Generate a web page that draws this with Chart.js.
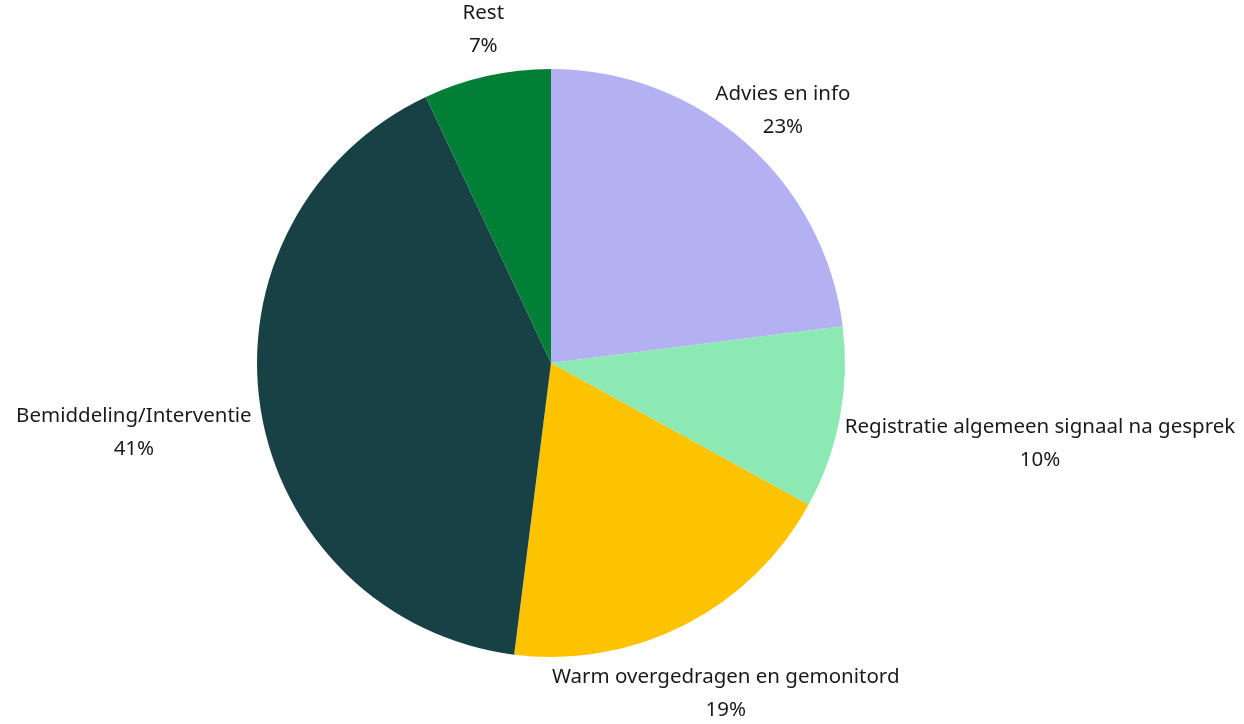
<!DOCTYPE html>
<html>
<head>
<meta charset="utf-8">
<script src="https://cdn.jsdelivr.net/npm/chart.js@4.4.0/dist/chart.umd.min.js"></script>
<style>
  html, body { margin: 0; padding: 0; background: #fff; }
  #wrap { width: 1244px; height: 724px; }
</style>
</head>
<body>
<div id="wrap"><canvas id="pieChart" width="1244" height="724"></canvas></div>
<script>
// Slice data, clockwise from 12 o'clock
const categories = [
    'Advies en info',
    'Registratie algemeen signaal na gesprek',
    'Warm overgedragen en gemonitord',
    'Bemiddeling/Interventie',
    'Rest'
];
const shares = [23, 10, 19, 41, 7];
const sliceColors = ['#b3b1f1', '#8de9b3', '#fdc300', '#184146', '#027f37'];

const LABEL_FONT = '20.5px "Noto Sans", "Open Sans", sans-serif';
const LINE_GAP = 33;

// Draws "name / xx%" outside each slice, pushed away from the pie edge
const outsideLabels = {
    id: 'outsideLabels',
    afterDatasetsDraw(chart) {
        const ctx = chart.ctx;
        const meta = chart.getDatasetMeta(0);
        ctx.save();
        ctx.font = LABEL_FONT;
        ctx.fillStyle = '#1a1a1a';
        ctx.textAlign = 'center';
        ctx.textBaseline = 'middle';
        meta.data.forEach((arc, i) => {
            const mid = (arc.startAngle + arc.endAngle) / 2;
            const cosA = Math.cos(mid), sinA = Math.sin(mid);
            const r = arc.outerRadius + 12;
            const px = arc.x + cosA * r;
            const py = arc.y + sinA * r;
            const lines = [categories[i], shares[i] + '%'];
            const w = Math.max(...lines.map(t => ctx.measureText(t).width));
            const h = LINE_GAP * 2;
            // labels near the bottom/top get pulled back towards the middle
            const cx = px + cosA * Math.abs(cosA) * w / 2;
            const cy = py + sinA * h * 0.75 + 14;
            ctx.fillText(lines[0], cx, cy - LINE_GAP / 2);
            ctx.fillText(lines[1], cx, cy + LINE_GAP / 2);
        });
        ctx.restore();
    }
};

new Chart(document.getElementById('pieChart').getContext('2d'), {
    type: 'pie',
    data: {
        labels: categories,
        datasets: [{
            data: shares,
            backgroundColor: sliceColors,
            borderWidth: 0
        }]
    },
    options: {
        responsive: false,
        animation: false,
        layout: {
            padding: { top: 69, bottom: 67, left: 257, right: 399 }
        },
        plugins: {
            legend: { display: false },
            tooltip: { enabled: false }
        }
    },
    plugins: [outsideLabels]
});
</script>
</body>
</html>
